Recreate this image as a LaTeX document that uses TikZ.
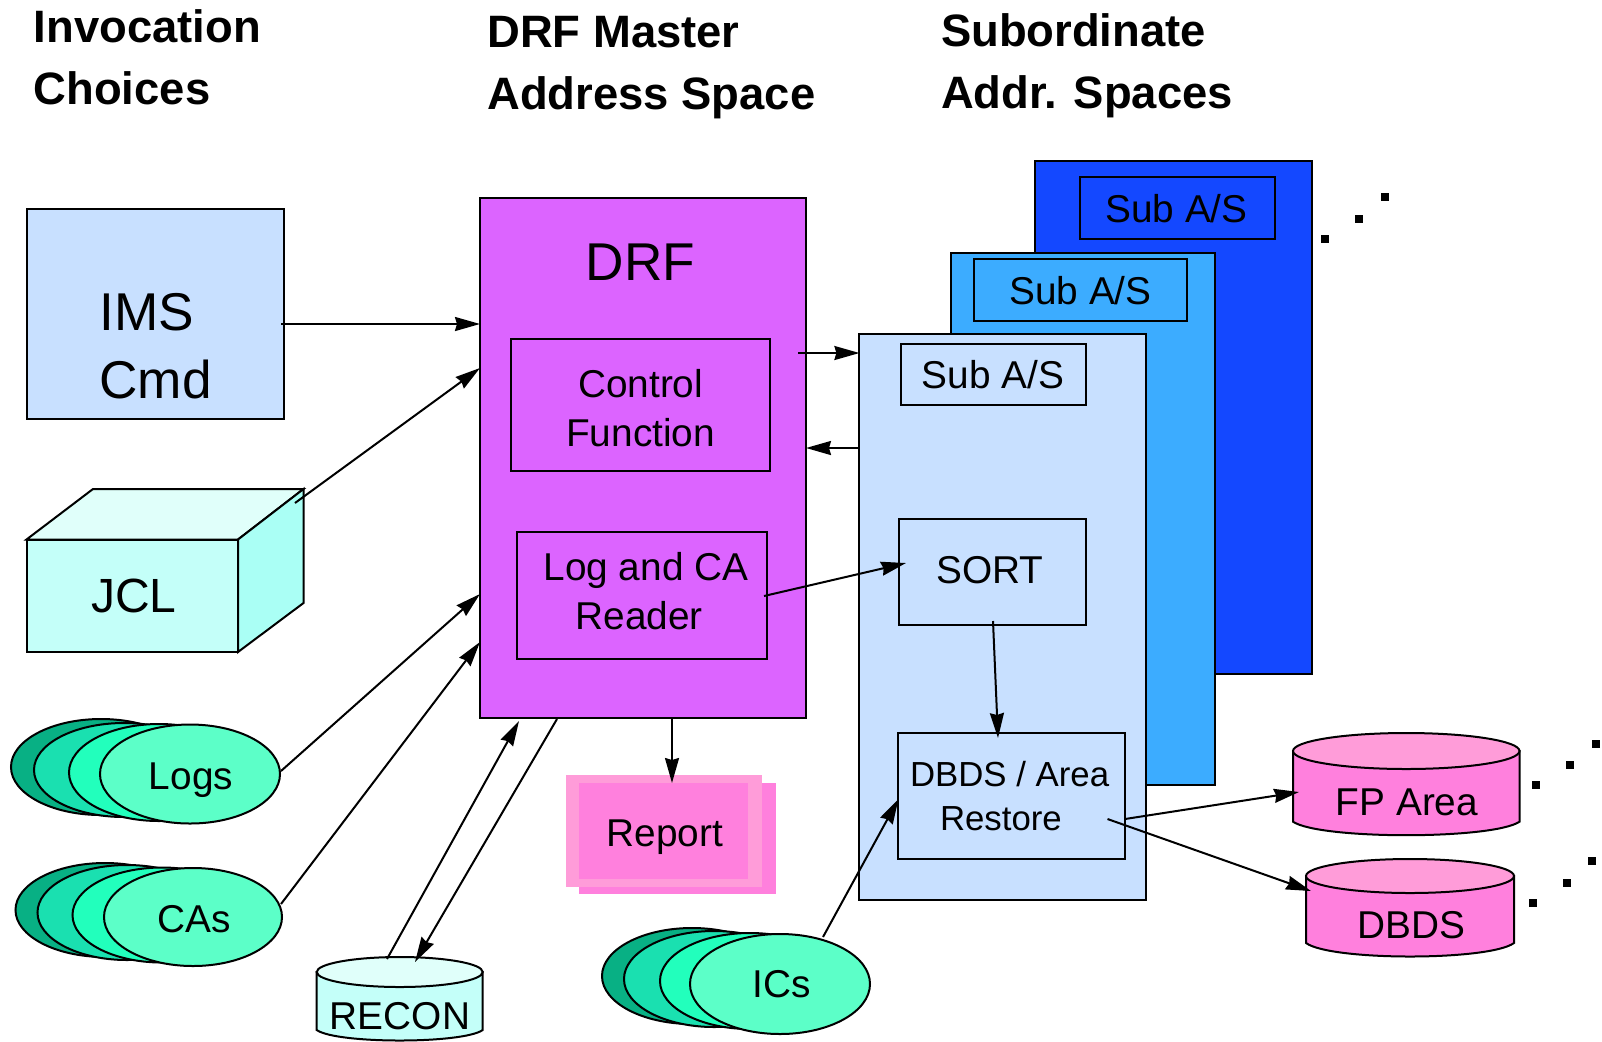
\documentclass[tikz,border=0pt]{standalone}
\usepackage{fontspec}
\setmainfont{Liberation Sans}
\usetikzlibrary{arrows.meta,shapes.geometric}
\definecolor{purp}{HTML}{DC64FF}
\definecolor{lblue}{HTML}{C8E0FF}
\definecolor{mblue}{HTML}{3CACFF}
\definecolor{dblue}{HTML}{1448FF}
\definecolor{cyanA}{HTML}{C4FFF9}
\definecolor{cyanB}{HTML}{E0FFFA}
\definecolor{cyanC}{HTML}{AAFFF5}
\definecolor{grnA}{HTML}{5CFFC8}
\definecolor{grnB}{HTML}{22FFBC}
\definecolor{grnC}{HTML}{1AE0B0}
\definecolor{grnD}{HTML}{08B084}
\definecolor{pinkA}{HTML}{FF80DD}
\definecolor{pinkB}{HTML}{FF9CD9}
\newcommand{\fsz}[2]{\fontsize{#1}{#2}\selectfont}
\newcommand{\rectn}[7]{\node (#1) [boxn,#2,minimum width={(#5-#3)*0.5pt},minimum height={(#6-#4)*0.5pt}] at ({(#3+#5)/2},{(#4+#6)/2}) {#7};}
\newcommand{\elln}[6]{\node (#1) [elln,fill=#2,minimum width={#5*0.5pt},minimum height={#6*0.5pt}] at (#3,#4) {};}
\newcommand{\cyln}[9]{%
 \path[draw=black,fill=#8,line width=1pt] (#2,#4) -- (#2,#6) .. controls (#2+0.12*#3-0.12*#2,#6+#7) and (#3-0.12*#3+0.12*#2,#6+#7) .. (#3,#6) -- (#3,#4) -- cycle;
 \node (#1) [elln,fill=#9,minimum width={(#3-#2)*0.5pt},minimum height={2*#5*0.5pt}] at ({(#2+#3)/2},#4) {};}
\tikzset{
 boxn/.style={draw=black,line width=1pt,inner sep=0pt,outer sep=0pt,align=center,text=black},
 elln/.style={shape=ellipse,draw=black,line width=1pt,inner sep=0pt,outer sep=0pt},
 txt/.style={inner sep=0pt,outer sep=0pt,text=black},
 head/.style={txt,align=left,anchor=west,font=\fsz{22.7}{31}\bfseries},
 big/.style={font=\fsz{26.6}{34}},
 mid/.style={font=\fsz{19.4}{24.5}},
 small/.style={font=\fsz{17.4}{22}},
 conn/.style={draw=black,line width=1pt,-{Stealth[length=12.5pt,width=7pt,inset=1pt]}},
 dotn/.style={fill=black,inner sep=0pt,outer sep=0pt,minimum size=4pt,shape=rectangle}
}
\begin{document}
\begin{tikzpicture}[x=0.5pt,y=-0.5pt]
\useasboundingbox (0,0) rectangle (1602,1041);
% headings
\node (h1) [head] at (33.7,57.5) {Invocation\\Choices};
\node (h2) [head] at (487.4,68) {DRF Master\\Address Space};
\node (h3) [head] at (941,66) {Subordinate\\Addr. Spaces};
% IMS
\rectn{ims}{fill=lblue}{26.5}{208.5}{284}{419}{}
\node (imsT) [txt,big,align=left,anchor=west] at (99.5,346) {IMS\\Cmd};
% JCL
\path[draw=black,line width=1pt,fill=cyanB] (26.5,539.5) -- (93,489) -- (303.5,489) -- (238,539.5) -- cycle;
\path[draw=black,line width=1pt,fill=cyanC] (238,539.5) -- (303.5,489) -- (303.5,603) -- (238,652) -- cycle;
\rectn{jcl}{fill=cyanA}{26.5}{539.5}{238}{652}{}
\node (jclT) [txt,font=\fsz{24}{28}] at (134,596) {JCL};
% Logs
\elln{logsA}{grnD}{101}{767}{180}{96}
\elln{logsB}{grnC}{124}{770}{180}{94}
\elln{logsC}{grnB}{159}{772.5}{180}{97}
\elln{logs}{grnA}{190}{774}{180}{99}
\node (logsT) [txt,mid] at (191,780) {Logs};
% CAs
\elln{casA}{grnD}{105}{910}{179}{94}
\elln{casB}{grnC}{127}{912.5}{179}{95}
\elln{casC}{grnB}{162}{915}{179}{95}
\elln{cas}{grnA}{193}{917}{178}{98}
\node (casT) [txt,mid] at (194,919) {CAs};
% RECON
\cyln{recon}{316.7}{482.7}{972}{15}{1030}{14}{cyanA}{cyanB}
\node (reconT) [txt,mid] at (400,1016) {RECON};
% DRF
\rectn{drf}{fill=purp}{480}{198}{806}{718}{}
\node (drfT) [txt,big] at (640.6,262.6) {DRF};
\rectn{ctrl}{fill=purp}{511}{339}{770}{471}{}
\node (ctrlT) [txt,mid,align=center] at (640.6,408) {Control\\Function};
\rectn{reader}{fill=purp}{517}{532}{767}{659}{}
\node (readerT) [txt,mid,align=left,anchor=west] at (543.5,591.5) {Log and CA\\\hspace*{16pt}Reader};
% Report
\path[fill=pinkA] (578.7,783) rectangle (775.6,894);
\node (repB) [draw=none,fill=pinkB,inner sep=0pt,minimum width=98pt,minimum height=56pt] at (664,831) {};
\node (report) [draw=none,fill=pinkA,inner sep=0pt,minimum width=84.5pt,minimum height=48pt] at (663.5,830.5) {};
\node (reportT) [txt,mid] at (665,837) {Report};
% Subordinate stacks
\rectn{subC}{fill=dblue}{1035}{160.7}{1311.7}{674}{}
\rectn{subCt}{fill=dblue}{1079.5}{177}{1275}{238.7}{}
\node (subCl) [txt,mid] at (1176.5,208.5) {Sub A/S};
\rectn{subB}{fill=mblue}{951}{253}{1214.5}{785}{}
\rectn{subBt}{fill=mblue}{974}{259}{1187}{320.7}{}
\node (subBl) [txt,mid] at (1080.5,291) {Sub A/S};
\rectn{subA}{fill=lblue}{859.4}{334}{1146}{900}{}
\rectn{subAt}{fill=lblue}{900.6}{343.7}{1086}{405}{}
\node (subAl) [txt,mid] at (993,375) {Sub A/S};
\rectn{sort}{fill=lblue}{899}{519}{1086}{625}{}
\node (sortT) [txt,mid] at (990,570) {SORT};
\rectn{restore}{fill=lblue}{898}{732.7}{1125}{859}{}
\node (restoreT) [txt,small,align=left,anchor=west] at (910,796) {DBDS / Area\\\hspace*{15pt}Restore};
% ICs
\elln{icA}{grnD}{692}{976}{180}{96}
\elln{icB}{grnC}{714}{979}{180}{96}
\elln{icC}{grnB}{750}{981}{180}{96}
\elln{ics}{grnA}{780}{984}{180}{100}
\node (icsT) [txt,mid] at (782,984) {ICs};
% FP / DBDS cylinders
\cyln{fp}{1293}{1519.5}{751}{18}{821.7}{18}{pinkA}{pinkB}
\node (fpT) [txt,mid] at (1407,802) {FP Area};
\cyln{dbds}{1306}{1514}{876}{17}{943}{18}{pinkA}{pinkB}
\node (dbdsT) [txt,mid] at (1411,925) {DBDS};
% continuation dots
\node (d1) [dotn] at (1324.5,239) {};
\node (d2) [dotn] at (1358.5,219) {};
\node (d3) [dotn] at (1384.5,197) {};
\node (d4) [dotn] at (1535.5,785) {};
\node (d5) [dotn] at (1569.5,765) {};
\node (d6) [dotn] at (1595.5,744) {};
\node (d7) [dotn] at (1532.5,903) {};
\node (d8) [dotn] at (1566.5,883) {};
\node (d9) [dotn] at (1592,861) {};
% connector ends
\coordinate (imsOut) at (281,324);
\coordinate (drfA) at (480,324);
\coordinate (jclOut) at (295,503);
\coordinate (drfB) at (480,368);
\coordinate (logsOut) at (281,771);
\coordinate (drfC) at (480,594);
\coordinate (casOut) at (281,904);
\coordinate (drfD) at (480,642);
\coordinate (reconOut) at (387,959);
\coordinate (drfE) at (519,721);
\coordinate (drfF) at (557,719);
\coordinate (reconIn) at (415,962);
\coordinate (drfG) at (672,718);
\coordinate (repIn) at (672,783);
\coordinate (ctrlOut) at (798,353);
\coordinate (subIn) at (859.4,353);
\coordinate (subOut) at (859.4,448);
\coordinate (drfH) at (806,448);
\coordinate (readOut) at (764,596);
\coordinate (sortIn) at (906,563);
\coordinate (sortOut) at (993,621);
\coordinate (restIn) at (998,738);
\coordinate (icsOut) at (823,937);
\coordinate (restIc) at (898.5,799);
\coordinate (restA) at (1125,819);
\coordinate (fpIn) at (1299,792);
\coordinate (restB) at (1107.5,819);
\coordinate (dbdsIn) at (1311,891);
% connectors
\draw[conn] (imsOut) -- (drfA);
\draw[conn] (jclOut) -- (drfB);
\draw[conn] (logsOut) -- (drfC);
\draw[conn] (casOut) -- (drfD);
\draw[conn] (reconOut) -- (drfE);
\draw[conn] (drfF) -- (reconIn);
\draw[conn] (drfG) -- (repIn);
\draw[conn] (ctrlOut) -- (subIn);
\draw[conn] (subOut) -- (drfH);
\draw[conn] (readOut) -- (sortIn);
\draw[conn] (sortOut) -- (restIn);
\draw[conn] (icsOut) -- (restIc);
\draw[conn] (restA) -- (fpIn);
\draw[conn] (restB) -- (dbdsIn);
\end{tikzpicture}
\end{document}
